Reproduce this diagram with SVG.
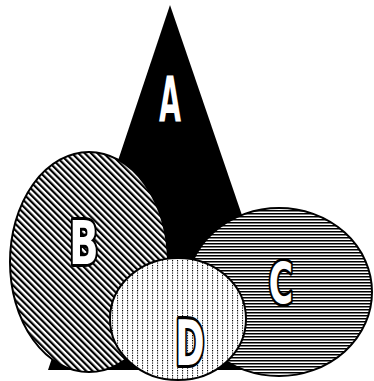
<svg xmlns="http://www.w3.org/2000/svg" width="374" height="381" viewBox="0 0 374 381">
<defs>
<pattern id="pB" patternUnits="userSpaceOnUse" width="4.5" height="4.5" patternTransform="rotate(-45)">
<rect width="4.5" height="4.5" fill="#fff"/><rect x="0" y="0" width="2.2" height="4.5" fill="#000"/>
</pattern>
<pattern id="pC" patternUnits="userSpaceOnUse" width="3" height="3">
<rect width="3" height="3" fill="#fff"/><rect x="0" y="0" width="3" height="1.5" fill="#000"/>
</pattern>
<pattern id="pD" patternUnits="userSpaceOnUse" width="5" height="2.5">
<rect width="5" height="2.5" fill="#fff"/><rect x="2" y="0" width="1.1" height="1.2" fill="#000"/>
</pattern>
</defs>
<style>
.sh{stroke:#000;stroke-width:2}
.lb{font-family:"DejaVu Sans",sans-serif;font-weight:bold;fill:#fff;stroke:#000;stroke-width:5;paint-order:stroke;stroke-linejoin:round;text-anchor:middle;vector-effect:non-scaling-stroke}
</style>
<g id="A">
<polygon points="170,5 295,370 48,370" fill="#000"/>
<text class="lb" transform="translate(170,121) scale(0.46,1)" font-size="62">A</text>
</g>
<g id="B">
<ellipse class="sh" cx="89" cy="262" rx="79" ry="110" fill="url(#pB)"/>
<text class="lb" transform="translate(84,264) scale(0.64,1)" font-size="60">B</text>
</g>
<g id="C">
<ellipse class="sh" cx="279" cy="292" rx="93" ry="84" fill="url(#pC)"/>
<text class="lb" transform="translate(281,304) scale(0.58,1)" font-size="57">C</text>
</g>
<g id="D">
<ellipse class="sh" cx="178" cy="319" rx="68" ry="61" fill="url(#pD)"/>
<text class="lb" transform="translate(190,365) scale(0.56,1)" font-size="63">D</text>
</g>
<g id="connectors"/>
</svg>
